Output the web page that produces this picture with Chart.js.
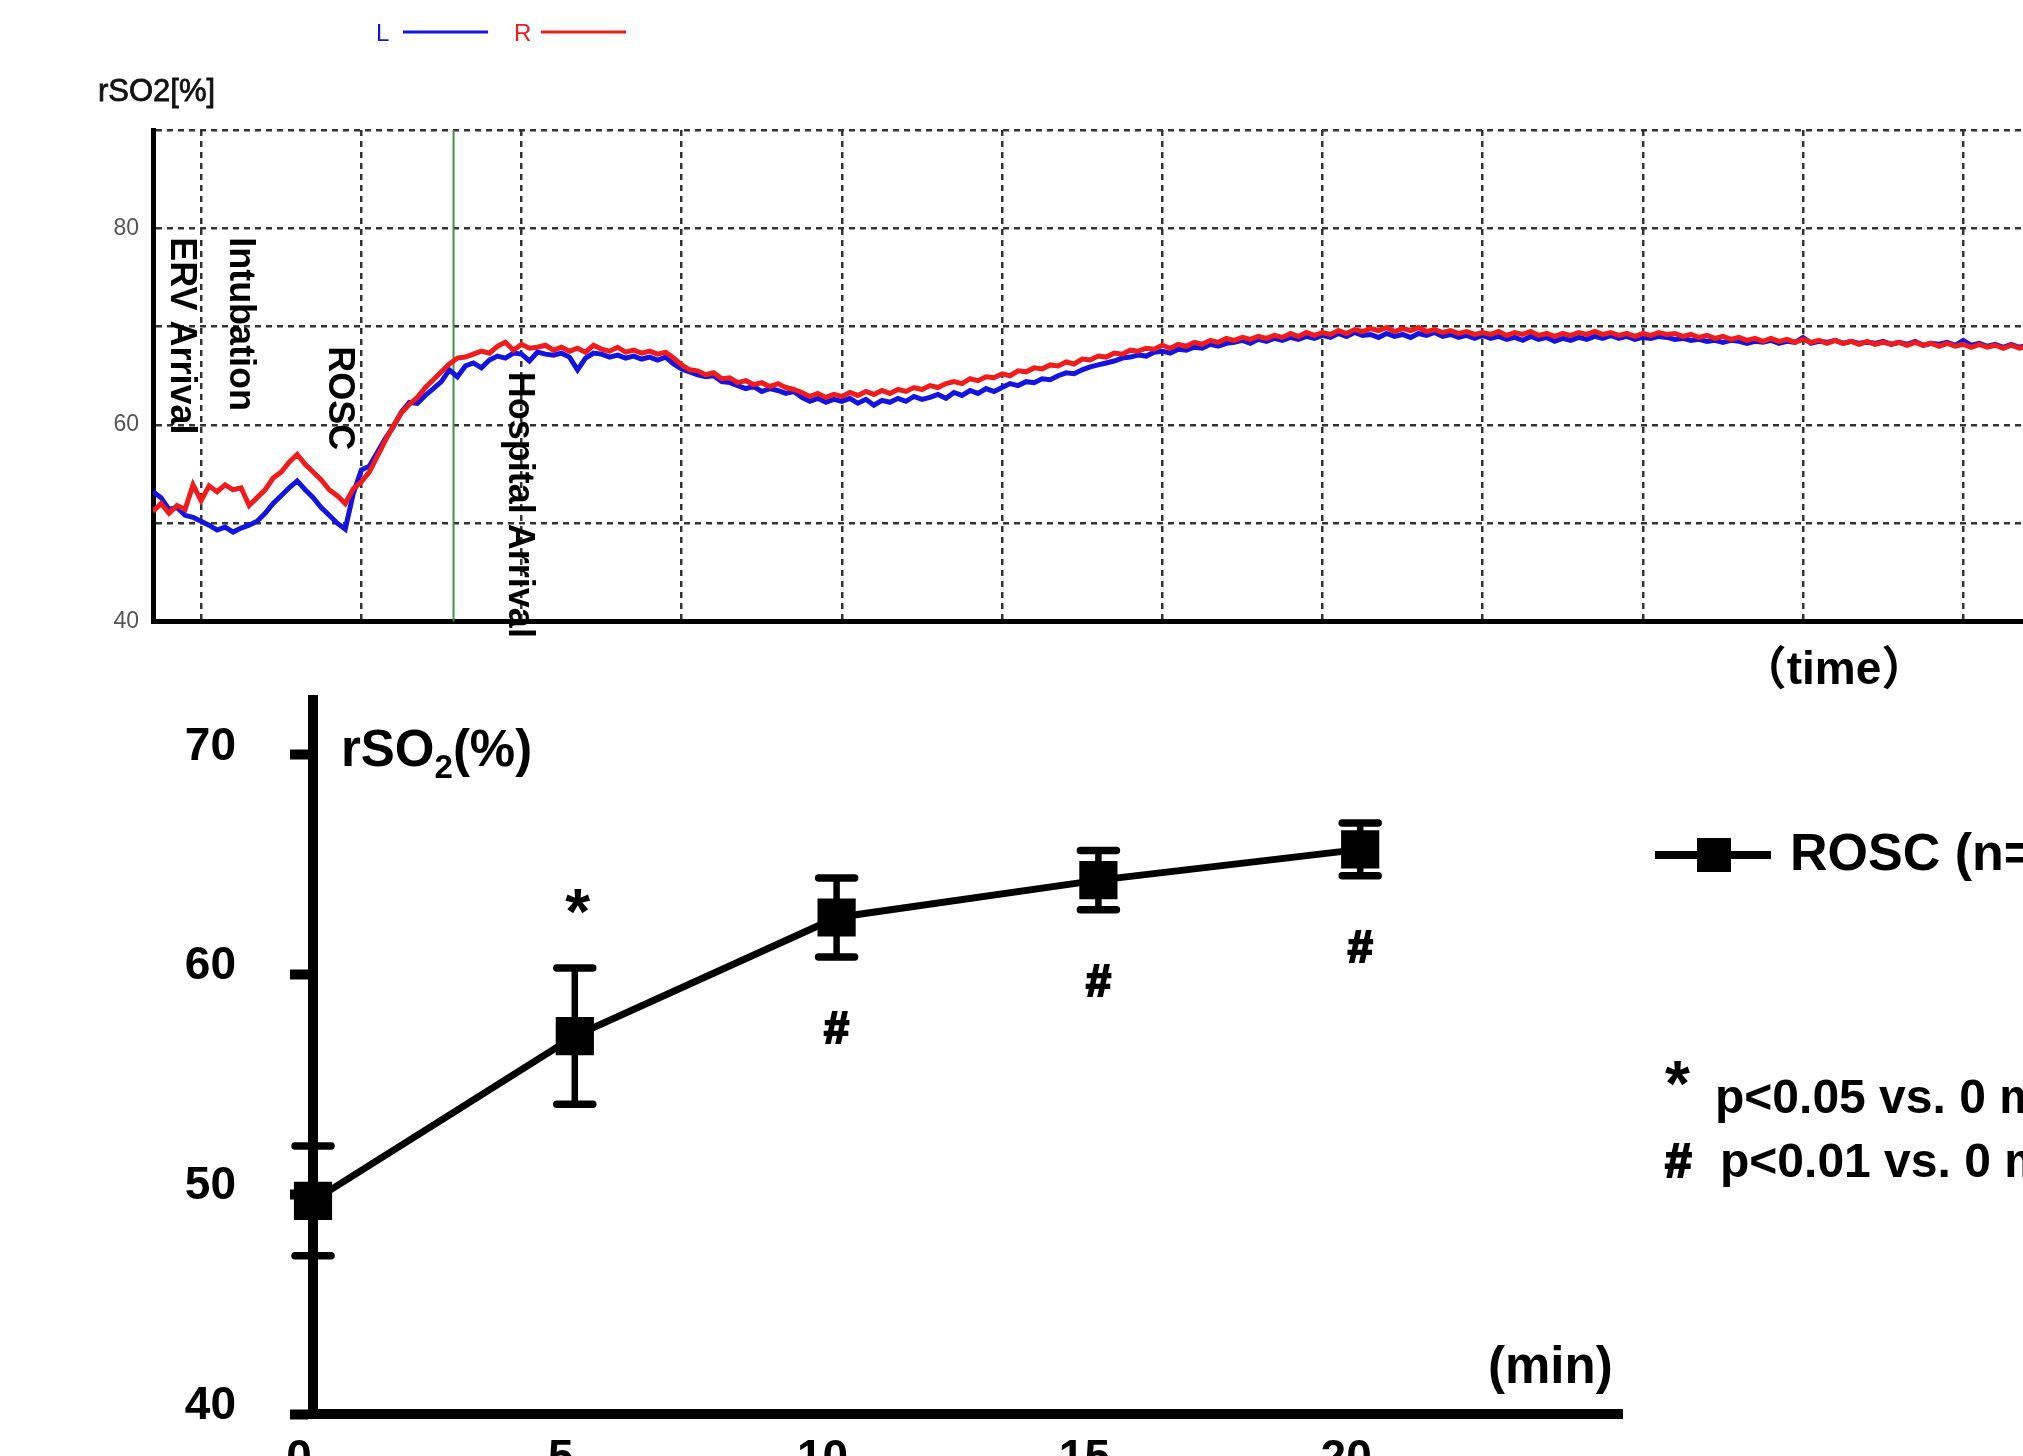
<!DOCTYPE html>
<html><head><meta charset="utf-8">
<script src="https://cdn.jsdelivr.net/npm/chart.js@4.4.1/dist/chart.umd.min.js"></script>
<style>
html,body{margin:0;padding:0;background:#fff;overflow:hidden;width:2023px;height:1456px;position:relative;}
#top{position:absolute;left:0;top:0;}
#bot{position:absolute;left:0;top:680px;}
</style></head><body>
<canvas id="top" width="2023" height="700"></canvas>
<canvas id="bot" width="2023" height="800"></canvas>
<script>
// ---------- top panel: continuous rSO2 monitor trace ----------
const traceStart = -0.30;   // time, in grid divisions
const traceStep = 0.05;
const traceR = [
51.2,52.0,51.0,51.8,51.4,53.9,
52.3,53.8,53.2,53.9,53.4,53.6,51.8,52.6,53.4,54.6,55.2,56.2,57.0,56.0,55.2,54.4,53.4,52.8,52.0,53.5,
54.2,55.2,56.8,58.4,59.9,61.2,62.1,62.8,63.8,64.6,65.4,66.2,66.8,66.9,67.2,67.5,67.3,68.0,68.4,67.6,
68.2,67.8,67.9,68.1,67.6,67.9,67.5,67.8,67.4,68.1,67.7,67.5,67.9,67.4,67.6,67.3,67.5,67.2,67.4,66.8,
66.1,65.6,65.5,65.1,65.3,64.7,64.8,64.3,64.5,64.1,64.3,63.9,64.2,63.8,63.6,63.3,62.9,63.2,62.8,63.1,
62.9,63.3,63.0,63.4,63.1,63.5,63.2,63.6,63.4,63.8,63.6,64.0,63.8,64.2,64.4,64.2,64.7,64.5,64.9,64.8,
65.2,65.0,65.5,65.4,65.8,65.7,66.1,66.0,66.4,66.2,66.7,66.6,67.0,66.9,67.3,67.2,67.6,67.5,67.8,67.7,
68.1,67.8,68.2,68.0,68.4,68.2,68.6,68.4,68.8,68.6,68.9,68.7,69.0,68.8,69.1,68.9,69.3,69.0,69.4,69.1,
69.4,69.2,69.6,69.3,69.7,69.5,69.8,69.6,69.9,69.5,69.8,69.6,69.9,69.5,69.7,69.4,69.6,69.3,69.5,69.2,
69.4,69.2,69.5,69.1,69.4,69.2,69.5,69.1,69.3,69.0,69.3,69.1,69.4,69.2,69.5,69.2,69.4,69.1,69.3,69.0,
69.3,69.1,69.4,69.2,69.3,69.0,69.2,68.9,69.1,68.8,69.0,68.7,68.9,68.6,68.8,68.5,68.8,68.5,68.7,68.4,
68.7,68.4,68.6,68.3,68.6,68.3,68.5,68.2,68.5,68.2,68.4,68.2,68.4,68.1,68.4,68.1,68.3,68.0,68.3,68.0,
68.2,67.9,68.2,67.9,68.1,67.8,68.1,67.8,68.0];
const traceL = [
53.2,52.6,51.4,51.6,50.8,50.6,
50.2,49.8,49.3,49.6,49.1,49.5,49.8,50.2,51.0,52.0,52.8,53.6,54.3,53.4,52.6,51.6,50.8,50.0,49.4,53.0,
55.4,55.8,57.2,58.6,59.8,61.3,62.3,62.2,63.0,63.7,64.4,65.6,64.9,66.0,66.3,65.8,66.6,67.0,66.8,67.3,
67.2,66.5,67.4,67.2,67.1,67.3,66.9,65.6,66.8,67.3,67.2,66.9,67.1,66.8,67.0,66.7,66.9,66.6,66.9,66.2,
65.7,65.4,65.1,64.9,65.0,64.4,64.3,64.0,63.7,63.9,63.4,63.7,63.5,63.2,63.4,62.8,62.4,62.7,62.3,62.6,
62.4,62.7,62.2,62.6,62.0,62.5,62.3,62.7,62.4,62.9,62.6,62.8,63.1,62.7,63.3,63.0,63.5,63.2,63.7,63.4,
63.8,64.2,64.0,64.4,64.3,64.7,64.6,65.0,65.3,65.2,65.6,65.9,66.1,66.3,66.5,66.8,66.9,67.1,67.0,67.4,
67.5,67.3,67.7,67.6,67.9,67.8,68.2,68.0,68.3,68.4,68.6,68.3,68.7,68.5,68.8,68.6,68.9,68.7,69.0,68.8,
69.1,68.9,69.3,69.0,69.4,69.1,69.2,68.9,69.3,69.0,69.2,68.9,69.3,69.1,69.4,69.0,69.2,68.9,69.1,68.8,
69.1,68.8,69.0,68.7,68.9,68.6,69.0,68.7,68.9,68.5,68.8,68.6,68.9,68.7,69.0,68.8,69.1,68.8,69.0,68.7,
68.9,68.8,69.0,68.9,68.7,68.8,68.6,68.7,68.5,68.6,68.4,68.6,68.5,68.3,68.5,68.4,68.6,68.3,68.5,68.4,
68.9,68.3,68.5,68.4,68.6,68.3,68.5,68.3,68.4,68.3,68.5,68.2,68.4,68.2,68.5,68.1,68.3,68.2,68.4,68.1,
68.6,68.1,68.3,68.0,68.2,67.9,68.2,67.9,68.1];
const gridTimes = [0,1,2,3,4,5,6,7,8,9,10,11];
const pctTicks = [40,50,60,70,80,90];
const pctLabelled = [40,60,80];
const eventLabels = ['ERV Arrival','Intubation','ROSC','Hospital Arrival'];
const eventTimes = [-0.187, 0.18, 0.796, 1.92];
const eventTops = [79.1, 79.1, 68.0, 65.4];
const markerTime = 1.576;

// ---------- bottom panel: mean rSO2 after ROSC ----------
const minutes = [0, 5, 10, 15, 20];
const roscMean = [49.7, 57.2, 62.6, 64.3, 65.7];
const roscSD = [2.5, 3.1, 1.8, 1.35, 1.2];
const roscSig = ['', '*', '#', '#', '#'];
const minTicks = [0, 5, 10, 15, 20];
const rso2Ticks = [40, 50, 60, 70];
const footnotes = [['*', 'p<0.05 vs. 0 min'], ['#', 'p<0.01 vs. 0 min']];

const SANS = '"Liberation Sans", Arial, sans-serif';

function heavyText(ctx, t, x, y, w) {
  ctx.save();
  ctx.lineWidth = w; ctx.strokeStyle = ctx.fillStyle; ctx.lineJoin = 'miter';
  ctx.strokeText(t, x, y); ctx.fillText(t, x, y);
  ctx.restore();
}

const topDecor = {
  id: 'topDecor',
  beforeDatasetsDraw(chart) {
    const {ctx, chartArea: a, scales: {x}} = chart;
    const px = x.getPixelForValue(markerTime);
    ctx.save();
    ctx.strokeStyle = '#3c963c'; ctx.lineWidth = 2;
    ctx.beginPath(); ctx.moveTo(px, a.top); ctx.lineTo(px, a.bottom); ctx.stroke();
    ctx.restore();
  },
  afterDraw(chart) {
    const {ctx, scales: {x, y}} = chart;
    ctx.save();
    ctx.fillStyle = '#000';
    ctx.font = 'bold 36px ' + SANS;
    ctx.textBaseline = 'alphabetic'; ctx.textAlign = 'left';
    eventLabels.forEach((t, i) => {
      ctx.save();
      ctx.translate(x.getPixelForValue(eventTimes[i]), y.getPixelForValue(eventTops[i]));
      ctx.rotate(Math.PI / 2);
      ctx.fillText(t, 0, 0);
      ctx.restore();
    });
    // axis title
    ctx.fillStyle = '#111';
    ctx.font = '31px ' + SANS;
    heavyText(ctx, 'rSO2[%]', 98, 101, 0.8);
    // legend
    const ds = chart.data.datasets;
    const items = [ds[1], ds[0]];
    const lx = [376, 514];
    items.forEach((d, i) => {
      ctx.fillStyle = d.borderColor; ctx.strokeStyle = d.borderColor;
      ctx.font = '24px ' + SANS;
      ctx.fillText(d.label, lx[i], 41);
      ctx.lineWidth = 3;
      ctx.beginPath(); ctx.moveTo(lx[i] + 27, 32); ctx.lineTo(lx[i] + 112, 32); ctx.stroke();
    });
    // time caption
    ctx.fillStyle = '#000';
    ctx.font = 'bold 46px ' + SANS + ', "Noto Sans CJK JP"';
    ctx.textAlign = 'center';
    ctx.fillText('（time）', 1834, 684);
    ctx.restore();
  }
};

new Chart(document.getElementById('top'), {
  type: 'line',
  data: {datasets: [
    {label: 'R', data: traceR.map((v, i) => ({x: traceStart + i * traceStep, y: v})),
     borderColor: '#f01c1c', borderWidth: 5, pointRadius: 0, tension: 0, order: 0},
    {label: 'L', data: traceL.map((v, i) => ({x: traceStart + i * traceStep, y: v})),
     borderColor: '#1414e0', borderWidth: 5, pointRadius: 0, tension: 0, order: 1}
  ]},
  options: {
    responsive: false, animation: false, devicePixelRatio: 1,
    layout: {autoPadding: false, padding: {top: 130, left: 0, right: 0, bottom: 0}},
    plugins: {legend: {display: false}, tooltip: {enabled: false}},
    scales: {
      x: {type: 'linear', min: -0.30, max: 11.373,
          afterBuildTicks: s => { s.ticks = gridTimes.map(v => ({value: v})); },
          afterFit: s => { s.height = 78.5; s.paddingLeft = 0; s.paddingRight = 0; },
          ticks: {display: false},
          grid: {color: '#333', lineWidth: 2.5, drawTicks: false},
          border: {display: true, color: '#000', width: 5, dash: [6, 5]}},
      y: {type: 'linear', min: 40, max: 90,
          afterBuildTicks: s => { s.ticks = pctTicks.map(v => ({value: v})); },
          afterFit: s => { s.width = 153; s.paddingTop = 0; s.paddingBottom = 0; },
          ticks: {padding: 14, color: '#555', font: {family: 'Liberation Sans', size: 23},
                  callback: v => pctLabelled.includes(v) ? String(v) : ''},
          grid: {color: c => (c.tick && c.tick.value === 40) ? 'rgba(0,0,0,0)' : '#333', lineWidth: 2.5, drawTicks: false},
          border: {display: true, color: '#000', width: 5, dash: [6, 5]}}
    }
  },
  plugins: [topDecor]
});

const botDecor = {
  id: 'botDecor',
  beforeDatasetsDraw(chart) {
    const {ctx, scales: {x, y}} = chart;
    ctx.save();
    ctx.strokeStyle = '#000';
    minutes.forEach((m, i) => {
      const px = x.getPixelForValue(m);
      const yt = y.getPixelForValue(roscMean[i] + roscSD[i]);
      const yb = y.getPixelForValue(roscMean[i] - roscSD[i]);
      ctx.lineWidth = 6.5; ctx.lineCap = 'butt';
      ctx.beginPath(); ctx.moveTo(px, yt); ctx.lineTo(px, yb); ctx.stroke();
      ctx.lineWidth = 7.5; ctx.lineCap = 'round';
      ctx.beginPath();
      ctx.moveTo(px - 18, yt); ctx.lineTo(px + 18, yt);
      ctx.moveTo(px - 18, yb); ctx.lineTo(px + 18, yb);
      ctx.stroke();
    });
    ctx.restore();
  },
  afterDraw(chart) {
    const {ctx, scales: {x, y}} = chart;
    ctx.save();
    ctx.fillStyle = '#000'; ctx.textAlign = 'center'; ctx.textBaseline = 'alphabetic';
    minutes.forEach((m, i) => {
      const px = x.getPixelForValue(m);
      if (roscSig[i] === '*') {
        ctx.font = 'bold 64px ' + SANS;
        ctx.fillText('*', px + 3, y.getPixelForValue(roscMean[i] + roscSD[i]) - 70 + 36);
      } else if (roscSig[i] === '#') {
        ctx.font = 'bold 45px ' + SANS;
        heavyText(ctx, '#', px, y.getPixelForValue(roscMean[i] - roscSD[i]) + 70 + 16, 2.2);
      }
    });
    // y title rSO2(%)
    ctx.textAlign = 'left';
    ctx.font = 'bold 51px ' + SANS;
    let tx = 341;
    ctx.fillText('rSO', tx, 86); tx += ctx.measureText('rSO').width;
    ctx.font = 'bold 33px ' + SANS;
    ctx.fillText('2', tx, 98); tx += ctx.measureText('2').width;
    ctx.font = 'bold 51px ' + SANS;
    ctx.fillText('(%)', tx, 86);
    // x title
    ctx.fillText('(min)', 1488, 703);
    // legend
    const d = chart.data.datasets[0];
    ctx.strokeStyle = '#000'; ctx.lineWidth = 8;
    ctx.beginPath(); ctx.moveTo(1655, 175); ctx.lineTo(1771, 175); ctx.stroke();
    ctx.fillRect(1697, 158, 34, 34);
    ctx.font = 'bold 52px ' + SANS;
    ctx.fillText(d.label, 1790, 190);
    // footnotes
    ctx.font = 'bold 64px ' + SANS;
    ctx.fillText(footnotes[0][0], 1665, 426);
    ctx.font = 'bold 48px ' + SANS;
    ctx.fillText(footnotes[0][1], 1715, 433);
    heavyText(ctx, footnotes[1][0], 1665, 497, 2);
    ctx.fillText(footnotes[1][1], 1720, 497);
    ctx.restore();
  }
};

new Chart(document.getElementById('bot'), {
  type: 'line',
  data: {datasets: [{
    label: 'ROSC (n=10)',
    data: minutes.map((m, i) => ({x: m, y: roscMean[i]})),
    borderColor: '#000', borderWidth: 7, tension: 0,
    pointStyle: 'rect', pointRadius: 27, pointBackgroundColor: '#000', pointBorderWidth: 0,
    clip: false
  }]},
  options: {
    responsive: false, animation: false, devicePixelRatio: 1,
    layout: {autoPadding: false, padding: {top: 20, right: 401, left: 0, bottom: 0}},
    plugins: {legend: {display: false}, tooltip: {enabled: false}},
    scales: {
      x: {type: 'linear', min: 0, max: 25,
          afterBuildTicks: s => { s.ticks = minTicks.map(v => ({value: v})); },
          afterFit: s => { s.height = 66; s.paddingLeft = 0; s.paddingRight = 0; },
          grid: {display: false},
          border: {display: true, color: '#000', width: 10},
          ticks: {color: '#000', padding: 10, labelOffset: -14, maxRotation: 0,
                  font: {family: 'Liberation Sans', size: 46, weight: 'bold'}}},
      y: {type: 'linear', min: 40, max: 72.5,
          afterBuildTicks: s => { s.ticks = rso2Ticks.map(v => ({value: v})); },
          afterFit: s => { s.width = 313; s.paddingTop = 0; s.paddingBottom = 0; },
          grid: {display: true, drawOnChartArea: false, drawTicks: true, tickLength: 23, tickWidth: 10, tickColor: '#000', color: '#000'},
          border: {display: true, color: '#000', width: 10},
          ticks: {color: '#000', padding: 54, labelOffset: -8,
                  font: {family: 'Liberation Sans', size: 46, weight: 'bold'}}}
    }
  },
  plugins: [botDecor]
});
</script>
</body></html>
